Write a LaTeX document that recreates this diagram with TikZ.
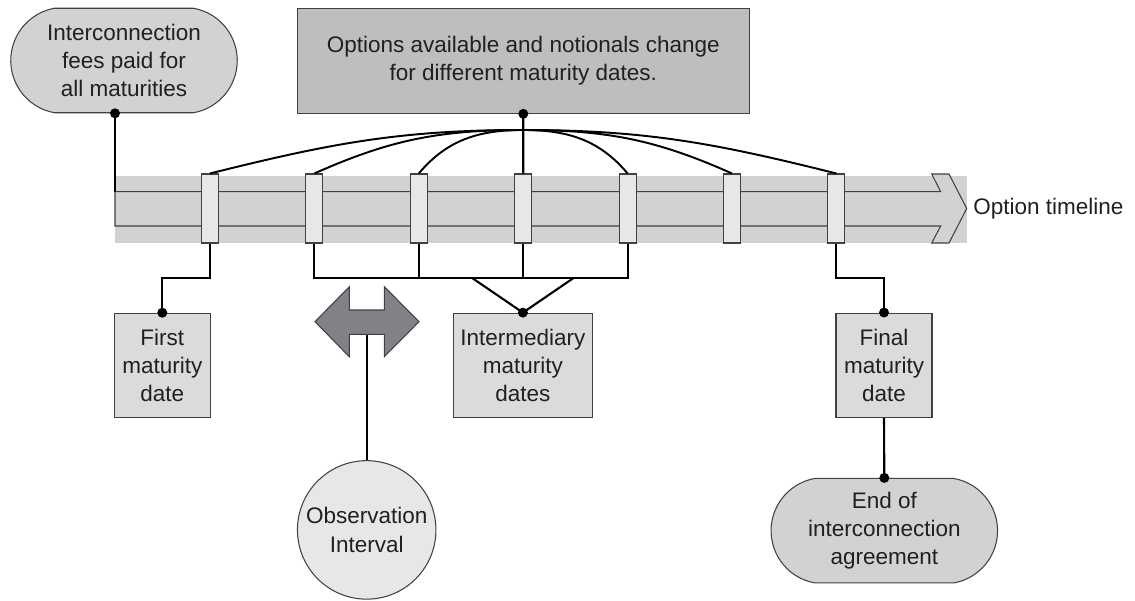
\documentclass[tikz,border=0pt]{standalone}
\usepackage{fontspec}
\setmainfont{Liberation Sans}
\usetikzlibrary{shapes.misc}
\definecolor{ink}{RGB}{35,31,32}
\definecolor{edgegray}{RGB}{65,64,66}
\definecolor{bandgray}{RGB}{209,210,212}
\definecolor{markgray}{RGB}{230,231,232}
\definecolor{boxgray}{RGB}{218,219,221}
\definecolor{topgray}{RGB}{188,190,192}
\definecolor{arrowgray}{RGB}{128,130,133}
\begin{document}
\begin{tikzpicture}[x=0.2mm,y=-0.2mm,
   every node/.style={font=\fontsize{12.8}{16}\selectfont,text=ink,align=center,inner sep=0pt},
   outline/.style={draw=edgegray,line width=0.6pt},
   datebox/.style={outline,fill=boxgray,minimum width=19.2mm,minimum height=20.9mm},
   pill/.style={outline,fill=bandgray,rounded rectangle,rounded rectangle arc length=160,minimum width=45.3mm,minimum height=20.9mm},
   marker/.style={outline,fill=markgray,minimum width=3.4mm,minimum height=13.8mm},
   link/.style={draw=black,line width=1.2pt},
   dot/.style={circle,fill=black,minimum size=2mm}]
   \useasboundingbox (0,0) rectangle (1135,600);
   % the timeline band and its arrow
   \fill[bandgray] (115,176) rectangle (967,243);
   \draw[outline,fill=bandgray] (115,191.7) -- (940.7,191.7) -- (931.7,174) -- (949,174) -- (966.7,208.5)
      -- (949,243) -- (931.7,243) -- (940.7,226) -- (115,226) -- cycle;
   \node[anchor=west] (line) at (973,208.5) {Option timeline};
   % top nodes
   \node[pill] (fees) at (124,60.5) {Interconnection\\fees paid for\\all maturities};
   \node[outline,fill=topgray,minimum width=90.4mm,minimum height=21mm] (top) at (523.3,60.8)
      {Options available and notionals change\\for different maturity dates.};
   \coordinate (tl) at (115,191.7);
   \draw[link] (tl |- fees.south) -- (tl);
   % maturity markers m1..m7
   \foreach \i in {1,...,7}
      \node[marker] (m\i) at ({210+104.4*(\i-1)},208.5) {};
   \coordinate (hub) at (523.3,130);
   \draw[link] (top.south) -- (m4.north);
   \foreach \i/\o/\a in {1/180/14,2/180/24,3/180/50,5/0/130,6/0/156,7/0/166}
      \draw[link,line width=1.1pt] (hub) to[out=\o,in=\a] (m\i.north);
   % bottom nodes
   \node[datebox] (first) at (162.3,365.5) {First\\maturity\\date};
   \node[datebox,minimum width=27.9mm] (inter) at (522.9,365.4) {Intermediary\\maturity\\dates};
   \node[datebox] (final) at (884,365.3) {Final\\maturity\\date};
   \node[pill] (end) at (884.3,530.7) {End of\\interconnection\\agreement};
   \node[outline,circle,fill=markgray,minimum size=27.7mm] (obs) at (366.7,529.9) {Observation\\Interval};
   \draw[link] (m1.south) -- ++(0,34.7) -| (first.north);
   \draw[link] (m2.south) -- ++(0,34.7) -| (m5.south);
   \foreach \i in {3,4}
      \draw[link] (m\i.south) -- ++(0,34.7);
   \coordinate (busl) at (471.7,277.7);
   \coordinate (busr) at (574,277.7);
   \draw[link] (busl) -- (inter.north) -- (busr);
   \draw[link] (m7.south) -- ++(0,34.7) -| (final.north);
   \draw[link] (final.south) -- (end.north);
   % observation interval
   \coordinate (shaft) at (366.7,334.3);
   \draw[link] (obs.north) -- (shaft);
   \draw[outline,fill=arrowgray] (315,321.7) -- (349.3,286.7) -- (349.3,310) -- (384.3,310) -- (384.3,286.7)
      -- (419,321.7) -- (384.3,356.7) -- (384.3,334.3) -- (349.3,334.3) -- (349.3,356.7) -- cycle;
   % dots
   \foreach \p in {tl |- fees.south,top.south,first.north,inter.north,final.north,end.north}
      \node[dot] at (\p) {};
\end{tikzpicture}
\end{document}
